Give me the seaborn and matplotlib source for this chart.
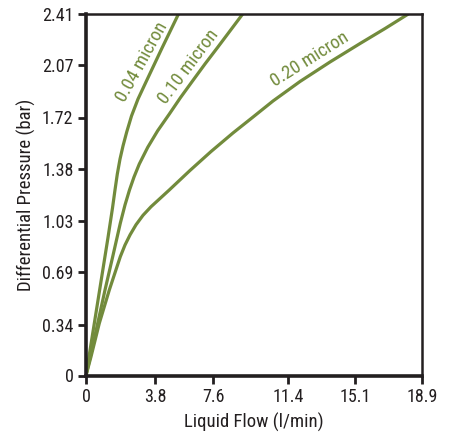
import matplotlib
matplotlib.use("Agg")
import matplotlib.pyplot as plt
from matplotlib import font_manager as fm
import seaborn as sns
import pandas as pd

# ---- data ----
flow_004 = [0, 0.309, 0.619, 0.928, 1.238, 1.491, 1.631, 1.761, 1.913, 2.081, 2.289, 2.559, 2.925, 3.375, 4.275, 5.203]
dp_004   = [0, 0.230, 0.460, 0.690, 0.920, 1.117, 1.237, 1.343, 1.443, 1.530, 1.623, 1.730, 1.843, 1.957, 2.183, 2.410]

flow_010 = [0, 0.242, 0.658, 1.069, 1.502, 1.929, 2.194, 2.447, 2.700, 2.998, 3.471, 4.033, 4.686, 5.316, 6.002, 6.694, 7.408, 8.814]
dp_010   = [0, 0.125, 0.348, 0.570, 0.792, 1.015, 1.137, 1.237, 1.323, 1.410, 1.521, 1.632, 1.743, 1.853, 1.965, 2.077, 2.188, 2.410]

flow_020 = [0, 0.281, 0.748, 1.311, 1.929, 2.194, 2.480, 2.813, 3.206, 3.656, 4.686, 5.850, 7.031, 8.269, 9.394, 10.519, 12.038, 13.725, 15.413, 16.819, 18.129]
dp_020   = [0, 0.125, 0.348, 0.570, 0.792, 0.870, 0.938, 1.005, 1.068, 1.125, 1.237, 1.367, 1.493, 1.617, 1.723, 1.830, 1.960, 2.090, 2.213, 2.313, 2.410]

series_names = ["0.04 micron", "0.10 micron", "0.20 micron"]
x_tick_labels = ["0", "3.8", "7.6", "11.4", "15.1", "18.9"]
x_tick_pos = [0, 3.88, 7.16, 11.38, 15.13, 18.9]
y_ticks = [0, 0.34, 0.69, 1.03, 1.38, 1.72, 2.07, 2.41]
y_tick_labels = ["0", "0.34", "0.69", "1.03", "1.38", "1.72", "2.07", "2.41"]

frames = []
for name, xs, ys in zip(series_names, [flow_004, flow_010, flow_020], [dp_004, dp_010, dp_020]):
    frames.append(pd.DataFrame({"flow": xs, "dp": ys, "series": name}))
df = pd.concat(frames, ignore_index=True)

GREEN = "#728b3c"
DARK = "#231f20"

sns.set_style("white")
available = {f.name for f in fm.fontManager.ttflist}
family = ["DejaVu Sans"]
for cand in ["Liberation Sans Narrow", "Roboto Condensed", "Open Sans Condensed", "Noto Sans Condensed"]:
    if cand in available:
        family = [cand, "DejaVu Sans"]
        break
plt.rcParams["font.family"] = family
plt.rcParams["font.stretch"] = "condensed"

fig = plt.figure(figsize=(4.51, 4.34), dpi=100)
ax = fig.add_axes([86 / 451, 1 - 375.5 / 434, 336 / 451, 361.5 / 434])

sns.lineplot(data=df, x="flow", y="dp", hue="series", palette=[GREEN] * 3,
             sort=False, linewidth=2.3, legend=False, ax=ax, estimator=None)

ax.set_xlim(0, 18.9)
ax.set_ylim(0, 2.41)
ax.set_xticks(x_tick_pos)
ax.set_xticklabels(x_tick_labels)
ax.set_yticks(y_ticks)
ax.set_yticklabels(y_tick_labels)
ax.tick_params(axis="both", which="major", direction="out", length=6, width=2,
               color=DARK, labelsize=13, labelcolor=DARK, pad=3,
               bottom=True, left=True)
ax.set_xlabel("Liquid Flow (l/min)", fontsize=13.5, color=DARK, labelpad=5)
ax.set_ylabel("Differential Pressure (bar)", fontsize=13.5, color=DARK, labelpad=4)

for side in ["left", "bottom"]:
    ax.spines[side].set_linewidth(2.6)
    ax.spines[side].set_color(DARK)
for side in ["top", "right"]:
    ax.spines[side].set_linewidth(1.8)
    ax.spines[side].set_color(DARK)
    ax.spines[side].set_visible(True)

# rotated series labels
label_pos = [(3.13, 2.09, 61), (5.79, 2.06, 53), (12.6, 2.11, 32)]
for name, (lx, ly, rot) in zip(series_names, label_pos):
    ax.text(lx, ly, name, rotation=rot, rotation_mode="anchor", ha="center",
            va="center", fontsize=13.5, color=GREEN)

fig.savefig("out.png", dpi=100)
